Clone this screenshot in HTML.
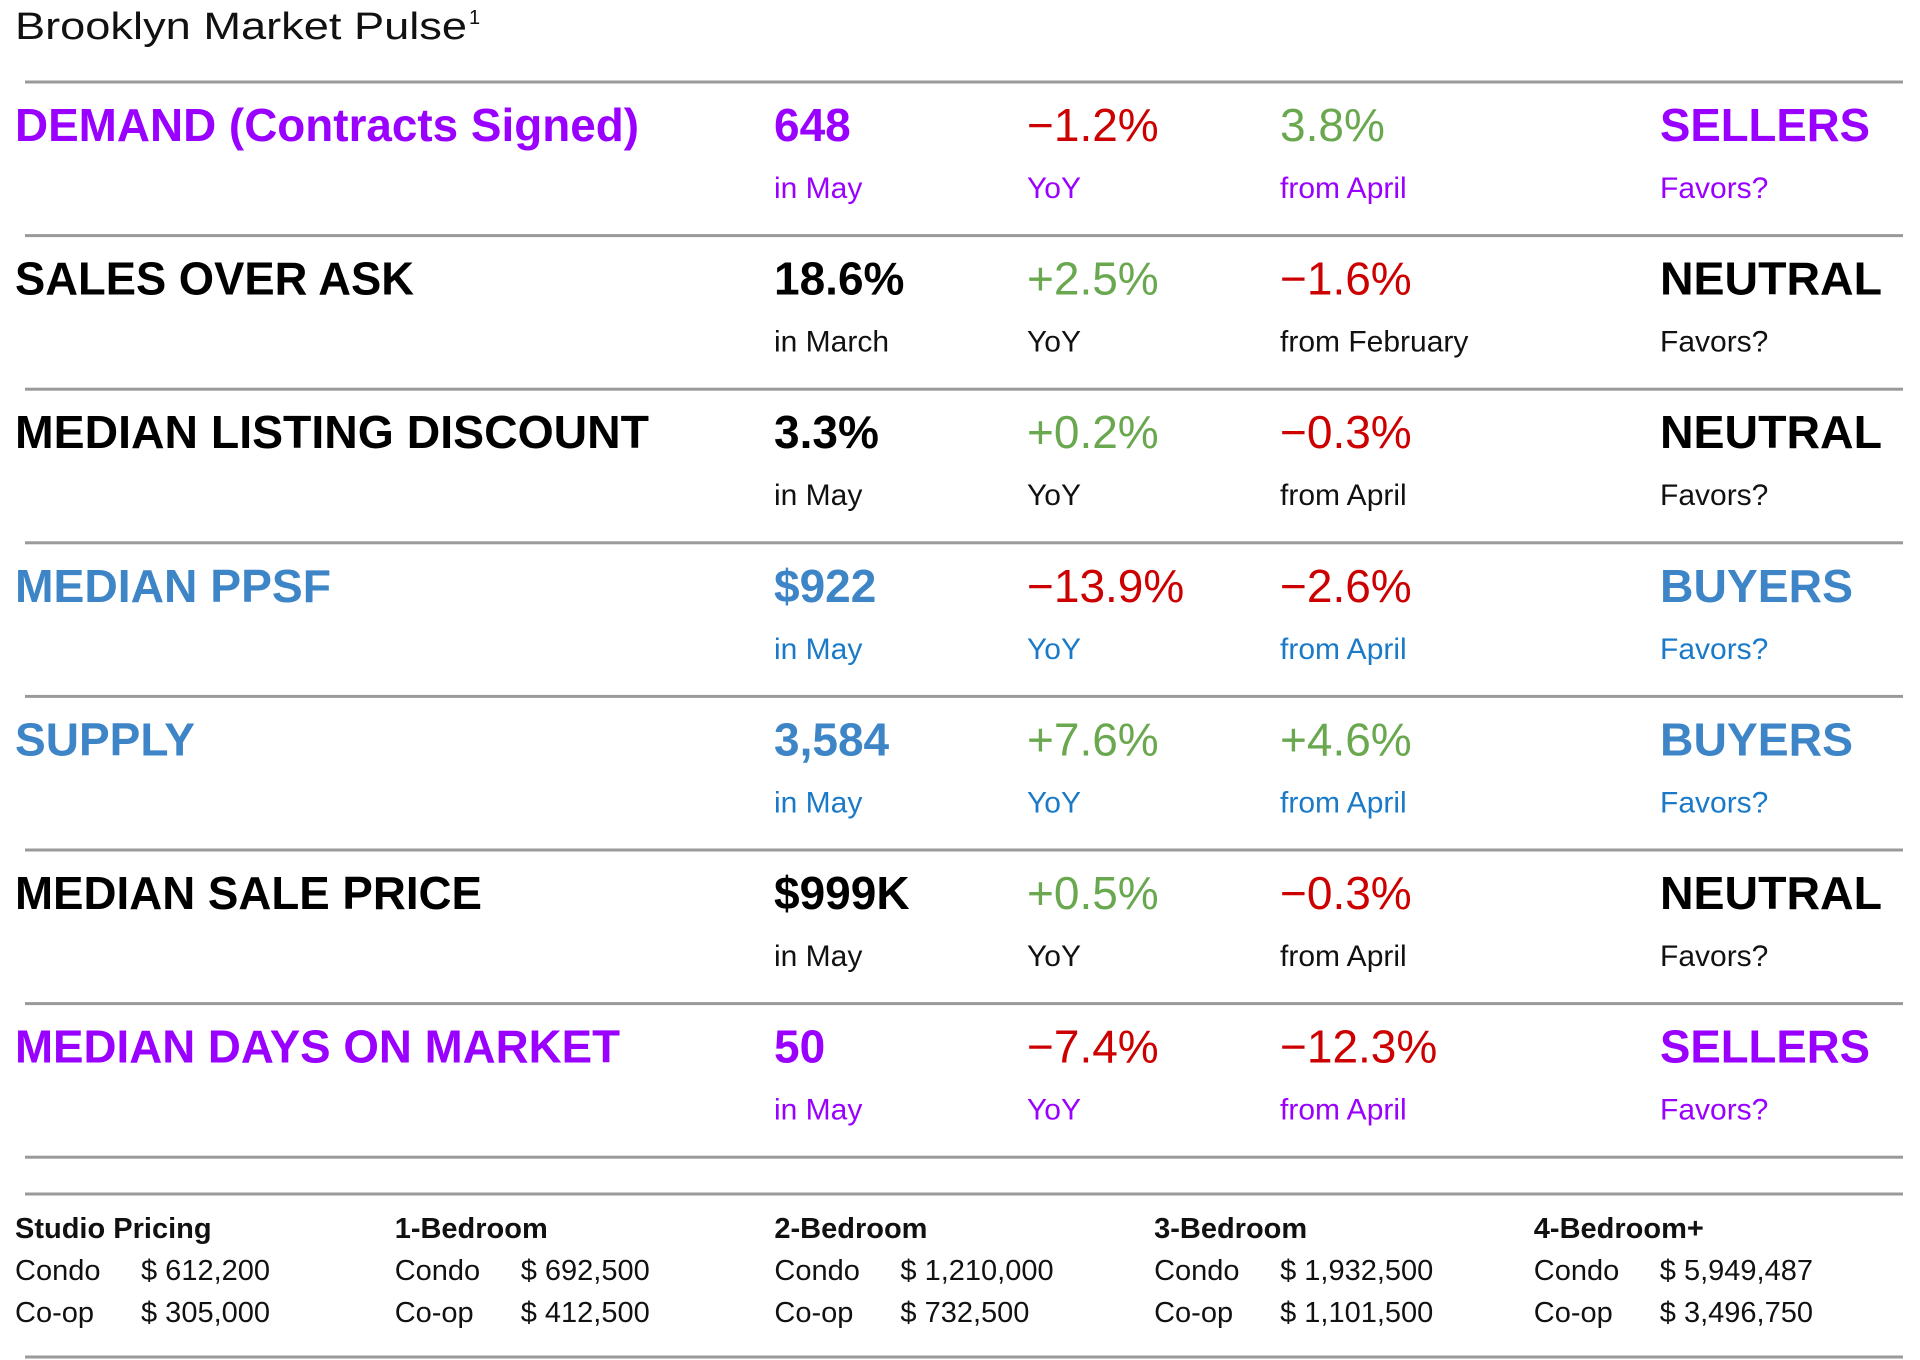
<!DOCTYPE html>
<html><head><meta charset="utf-8"><style>
html,body{margin:0;padding:0;background:#fff;}
svg{display:block;font-family:"Liberation Sans",sans-serif;}
</style></head><body>
<svg width="1920" height="1360" viewBox="0 0 1920 1360">
<text x="15" y="39" font-size="38" fill="#111" textLength="452" lengthAdjust="spacingAndGlyphs">Brooklyn Market Pulse</text>
<text x="469" y="24" font-size="20" fill="#111">1</text>
<g id="rows"></g>
<g id="bottom"></g>
</svg>
<script>
var labels=["DEMAND (Contracts Signed)","SALES OVER ASK","MEDIAN LISTING DISCOUNT","MEDIAN PPSF","SUPPLY","MEDIAN SALE PRICE","MEDIAN DAYS ON MARKET"];
var labelW=[624,399,634,316,180,467,605];
var values=["648","18.6%","3.3%","$922","3,584","$999K","50"];
var periods=["in May","in March","in May","in May","in May","in May","in May"];
var yoy=["\u22121.2%","+2.5%","+0.2%","\u221213.9%","+7.6%","+0.5%","\u22127.4%"];
var mom=["3.8%","\u22121.6%","\u22120.3%","\u22122.6%","+4.6%","\u22120.3%","\u221212.3%"];
var momLabel=["from April","from February","from April","from April","from April","from April","from April"];
var favors=["SELLERS","NEUTRAL","NEUTRAL","BUYERS","BUYERS","NEUTRAL","SELLERS"];
var NS="http://www.w3.org/2000/svg";
var themes={SELLERS:["#9a00ff","#9a00ff",210],NEUTRAL:["#000","#111",222],BUYERS:["#3d85c6","#1a7ac8",193]};
var RED="#cc0000",GREEN="#6aa84f";
function txt(g,x,y,s,size,fill,bold,w){var t=document.createElementNS(NS,"text");t.setAttribute("x",x);t.setAttribute("y",y);t.setAttribute("font-size",size);t.setAttribute("fill",fill);if(bold)t.setAttribute("font-weight","bold");if(w){t.setAttribute("textLength",w);t.setAttribute("lengthAdjust","spacingAndGlyphs");}t.textContent=s;g.appendChild(t);return t;}
function line(g,y){var l=document.createElementNS(NS,"rect");l.setAttribute("x",25);l.setAttribute("y",y-1.5);l.setAttribute("width",1878);l.setAttribute("height",3);l.setAttribute("fill","#9a9a9a");g.appendChild(l);return l;}
var rows=document.getElementById("rows");
var step=153.6;
for(var i=0;i<labels.length;i++){
  var l=line(rows,82+i*step);
  
  
  var th=themes[favors[i]],hb=141+i*step,sb=198+i*step;
  var t;
  t=txt(rows,15,hb,labels[i],46,th[0],true,labelW[i]);
  
  
  t=txt(rows,774,hb,values[i],46,th[0],true);
  
  
  t=txt(rows,774,sb,periods[i],30,th[1],false);
  
  
  t=txt(rows,1027,hb,yoy[i],46,yoy[i].charAt(0)=="+"?GREEN:RED,false);
  
  
  t=txt(rows,1027,sb,"YoY",30,th[1],false);
  
  
  t=txt(rows,1280,hb,mom[i],46,mom[i].charAt(0)=="\u2212"?RED:GREEN,false);
  
  
  t=txt(rows,1280,sb,momLabel[i],30,th[1],false);
  
  
  t=txt(rows,1660,hb,favors[i],46,th[0],true,th[2]);
  
  
  t=txt(rows,1660,sb,"Favors?",30,th[1],false);
  
  
}
var unitTypes=["Studio Pricing","1-Bedroom","2-Bedroom","3-Bedroom","4-Bedroom+"];
var condoPrices=["$ 612,200","$ 692,500","$ 1,210,000","$ 1,932,500","$ 5,949,487"];
var coopPrices=["$ 305,000","$ 412,500","$ 732,500","$ 1,101,500","$ 3,496,750"];
var b=document.getElementById("bottom");
var ls=[82+7*step,1194,1357];
for(var k=0;k<ls.length;k++){var l2=line(b,ls[k]);
  
  }
for(var j=0;j<unitTypes.length;j++){
  var x=15+j*379.7,t2;
  t2=txt(b,x,1238,unitTypes[j],29,"#111",true);
  
  
  t2=txt(b,x,1280,"Condo",29,"#111",false);
  
  
  t2=txt(b,x+126,1280,condoPrices[j],29,"#111",false);
  
  
  t2=txt(b,x,1322,"Co-op",29,"#111",false);
  
  
  t2=txt(b,x+126,1322,coopPrices[j],29,"#111",false);
  
  
}
</script>
</body></html>
